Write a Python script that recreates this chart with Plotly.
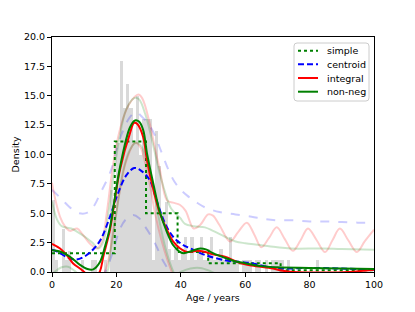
import plotly.graph_objects as go

# ---------------- data ----------------
hist_left = list(range(0, 100))
hist_height = [6.1, 1.0, 0, 3.7, 1.0, 1.8, 0, 0, 0, 1.0,
               0, 0, 1.0, 1.0, 0, 0, 1.0, 0, 7.0, 5.0,
               11.0, 18.0, 14.0, 16.0, 14.0, 11.0, 15.0, 10.0, 13.0, 13.0,
               13.0, 1.0, 12.0, 9.0, 5.0, 6.0, 2.0, 1.0, 2.0, 1.0,
               2.0, 3.0, 1.0, 3.0, 1.0, 2.0, 3.0, 1.0, 2.0, 3.0,
               1.0, 1.0, 2.0, 1.0, 1.0, 3.0, 1.0, 1.0, 0, 1.0,
               1.0, 1.0, 0, 1.0, 1.0, 0, 1.0, 0, 1.0, 1.0,
               1.0, 1.0, 0, 1.0, 0, 0, 0, 0, 0, 0,
               0, 0, 1.0, 0, 0, 0, 0, 0, 0, 0,
               0, 0, 0, 0, 0, 0, 0, 0, 0, 0]

simple_x = [0, 19.5, 29.2, 39, 48.5, 71, 100]
simple_y = [1.6, 11.1, 5.0, 1.7, 0.75, 0.15, 0.15]

centroid_x = [0, 2, 4, 7, 10, 12.7, 15, 18, 20.5, 23, 25.5, 27.3, 30.4, 32.6, 35,
              37.6, 40.7, 43, 47.5, 53.7, 58.4, 62, 66, 71.7, 80, 90, 100]
centroid_y = [1.9, 1.7, 1.35, 1.05, 1.3, 1.9, 2.7, 4.7, 6.7, 8.2, 8.85, 8.7, 7.8, 6.0, 4.2,
              3.0, 2.3, 2.0, 1.45, 1.0, 0.85, 0.75, 0.5, 0.3, 0.35, 0.3, 0.2]

integral_x = [0, 2.5, 5, 6.5, 10, 12.4, 14.8, 16, 18, 21.1, 24.2, 25.5, 26.5, 28.3, 29.5,
              31.4, 33.5, 35.7, 37.6, 39.8, 42, 45, 47, 50, 53.7, 58, 62, 68.6, 71.7,
              75, 85, 92, 100]
integral_y = [2.4, 2.0, 1.3, 0.75, 0, -0.9, 0, 1.4, 3.6, 8.7, 11.8, 12.7, 12.6, 11.5, 9.5,
              7.1, 5.0, 3.6, 2.6, 2.0, 1.7, 1.8, 1.75, 1.5, 1.3, 0.8, 0.55, 0.3, 0.1,
              0.0, -0.05, 0.0, 0.2]

nonneg_x = [0, 2.5, 5.6, 8.7, 11, 12.8, 14.9, 16.5, 18, 21.1, 24.2, 25.8, 27, 28.3, 29.5,
            31.4, 33.5, 35.7, 37.6, 39.8, 41, 43, 46, 48, 50, 53.7, 57, 60, 65, 70,
            80, 90, 100]
nonneg_y = [1.85, 1.75, 1.3, 0.6, 0.25, 0.22, 0.85, 2.2, 3.8, 8.9, 12.3, 12.9, 12.8, 12.1, 10.1,
            7.6, 5.1, 3.4, 2.3, 1.7, 1.6, 1.75, 2.0, 1.9, 1.6, 1.2, 0.9, 0.75, 0.5, 0.4,
            0.35, 0.3, 0.25]

cen_hi_x = [0, 3, 6, 8.5, 11, 13, 15, 17, 18.5, 20, 22, 24, 26, 28, 30, 32, 34, 36, 38,
            40, 42, 45, 47.5, 52, 57, 62, 66, 70, 75, 80, 85, 90, 95, 100]
cen_hi_y = [7.0, 6.2, 5.4, 5.0, 5.05, 5.6, 6.7, 7.8, 8.8, 10.4, 12.0, 13.1, 13.6, 13.2, 12.6,
            11.6, 10.2, 8.8, 7.7, 7.0, 6.5, 5.9, 5.5, 5.1, 4.9, 4.7, 4.5, 4.4, 4.4, 4.3,
            4.3, 4.25, 4.2, 4.2]
cen_lo_x = [15.5, 17, 19, 21, 23, 25.2, 27, 28.3, 30, 32.6, 34, 35.7, 37]
cen_lo_y = [-0.5, 0.3, 1.8, 3.6, 4.5, 4.85, 4.6, 4.1, 3.4, 2.1, 1.2, 0.4, -0.2]

int_hi_x = [0, 1, 2.5, 4, 5.6, 7.8, 9.5, 11.8, 14, 15.5, 17, 18.5, 20, 22, 24, 26.8, 28,
            30.4, 32, 33.5, 35.7, 37.6, 39.8, 41.5, 44, 46, 48.5, 50, 52, 55.3, 57.8,
            60.5, 62.8, 65, 67.4, 69.8, 72.3, 74.8, 77.2, 79.5, 82.2, 84.8, 87.1, 89.4,
            92, 94.7, 97.1, 100]
int_hi_y = [7.6, 6.2, 4.7, 3.9, 3.5, 3.7, 3.2, 2.4, 2.0, 2.6, 5.0, 8.2, 10.8, 13.0, 14.3,
            15.1, 14.8, 12.6, 10.5, 8.7, 6.1, 5.9, 5.7, 5.2, 3.7, 4.0, 4.9, 4.8, 4.0, 2.6,
            3.4, 4.2, 3.2, 2.1, 2.9, 3.8, 2.8, 1.8, 2.7, 3.7, 2.7, 1.7, 2.7, 3.7, 2.7, 1.7,
            2.6, 3.6]
int_lo_x = [16, 17.5, 19, 21, 23, 25.8, 27.5, 29, 30.5, 32, 34, 36, 37.5]
int_lo_y = [-0.3, 1.0, 3.5, 6.8, 9.4, 11.0, 10.6, 9.2, 7.3, 5.0, 2.7, 0.9, -0.2]

nn_hi_x = [0, 1.5, 3, 6, 8, 10.2, 12.5, 14.5, 16, 17.5, 19, 21, 23, 25.5, 27, 29, 31, 33,
           35, 37, 39.8, 41.3, 44, 47.5, 50, 53.7, 57, 60, 64.6, 70, 74, 84, 90, 100]
nn_hi_y = [6.0, 4.5, 3.9, 3.7, 3.4, 3.0, 2.5, 2.0, 2.6, 5.0, 8.0, 11.5, 13.8, 14.8, 14.7,
           13.4, 11.3, 8.9, 6.9, 5.4, 4.6, 4.1, 3.9, 3.8, 3.5, 3.0, 2.6, 2.45, 2.3, 2.1,
           2.0, 2.0, 1.95, 1.9]
nn_lo_x = [0, 1, 3, 5, 7, 8.5, 16.5, 18, 20, 22, 24, 26, 27.5, 29, 31, 33, 35, 37, 38.5,
           40, 43, 46, 49, 50.5]
nn_lo_y = [-0.2, 0.05, 0.4, 0.45, 0.1, -0.2, -0.3, 1.5, 5.0, 8.5, 10.3, 11.0, 10.8, 9.9,
           7.5, 4.8, 2.3, 0.5, -0.3, 0.0, 0.3, 0.35, 0.1, -0.1]

x_ticks = [0, 20, 40, 60, 80, 100]
y_ticks = [0, 2.5, 5, 7.5, 10, 12.5, 15, 17.5, 20]

legend_names = ["simple", "centroid", "integral", "non-neg"]

FONT = "DejaVu Sans"
FS = 9.5
GREEN = "#008000"
BLUE = "#0000ff"
RED = "#ff0000"

# plot area in pixels
W, H = 415, 312
L, R, T, B = 52, 41, 37, 40
PW, PH = W - L - R, H - T - B


def px_x(p):
    return (p - L) / PW


def px_y(p):
    return (H - B - p) / PH


fig = go.Figure()

fig.add_trace(go.Bar(x=[v + 0.5 for v in hist_left], y=hist_height, width=1.0,
                     marker=dict(color="rgba(128,128,128,0.3)", line=dict(width=0)),
                     showlegend=False, hoverinfo="skip"))

faint = [
    (cen_hi_x, cen_hi_y, "rgba(0,0,255,0.2)", "dash"),
    (cen_lo_x, cen_lo_y, "rgba(0,0,255,0.2)", "dash"),
    (int_hi_x, int_hi_y, "rgba(255,0,0,0.2)", "solid"),
    (int_lo_x, int_lo_y, "rgba(255,0,0,0.2)", "solid"),
    (nn_hi_x, nn_hi_y, "rgba(0,128,0,0.2)", "solid"),
    (nn_lo_x, nn_lo_y, "rgba(0,128,0,0.2)", "solid"),
]
for xs, ys, c, d in faint:
    fig.add_trace(go.Scatter(x=xs, y=ys, mode="lines", showlegend=False,
                             line=dict(color=c, width=2, dash=d, shape="spline"),
                             hoverinfo="skip"))

main_styles = [
    dict(color=GREEN, width=2, dash="dot"),
    dict(color=BLUE, width=2, dash="6px,3px"),
    dict(color=RED, width=2, dash="solid"),
    dict(color=GREEN, width=2, dash="solid"),
]

fig.add_trace(go.Scatter(x=simple_x, y=simple_y, mode="lines", name=legend_names[0],
                         showlegend=False, line=dict(**main_styles[0], shape="hv")))
fig.add_trace(go.Scatter(x=centroid_x, y=centroid_y, mode="lines", name=legend_names[1],
                         showlegend=False, line=dict(**main_styles[1], shape="spline")))
fig.add_trace(go.Scatter(x=integral_x, y=integral_y, mode="lines", name=legend_names[2],
                         showlegend=False, line=dict(**main_styles[2], shape="spline")))
fig.add_trace(go.Scatter(x=nonneg_x, y=nonneg_y, mode="lines", name=legend_names[3],
                         showlegend=False, line=dict(**main_styles[3], shape="spline")))

axis_common = dict(showline=True, linecolor="black", linewidth=1, mirror=True,
                   ticks="outside", ticklen=4, tickwidth=1, tickcolor="black",
                   showgrid=False, zeroline=False, automargin=False,
                   tickfont=dict(family=FONT, size=FS, color="black"))

fig.update_xaxes(range=[0, 100], tickvals=x_ticks, ticktext=[str(v) for v in x_ticks],
                 **axis_common)
fig.update_yaxes(range=[0, 20], tickvals=y_ticks, ticktext=[f"{v:.1f}" for v in y_ticks],
                 **axis_common)

# ---- legend box (matplotlib style) ----
lx0, lx1 = px_x(294), px_x(369)
ly0, ly1 = px_y(101), px_y(43)
rx, ry = 3 / PW, 3 / PH
path = (f"M{lx0 + rx},{ly0} L{lx1 - rx},{ly0} Q{lx1},{ly0} {lx1},{ly0 + ry} "
        f"L{lx1},{ly1 - ry} Q{lx1},{ly1} {lx1 - rx},{ly1} L{lx0 + rx},{ly1} "
        f"Q{lx0},{ly1} {lx0},{ly1 - ry} L{lx0},{ly0 + ry} Q{lx0},{ly0} {lx0 + rx},{ly0} Z")
shapes = [dict(type="path", xref="paper", yref="paper", path=path,
               fillcolor="rgba(255,255,255,0.8)", line=dict(color="#cccccc", width=1),
               layer="above")]
annotations = []
row_py = [50.7, 64.3, 78.0, 91.7]
for name, st, py in zip(legend_names, main_styles, row_py):
    shapes.append(dict(type="line", xref="paper", yref="paper",
                       x0=px_x(298), x1=px_x(318), y0=px_y(py), y1=px_y(py),
                       line=dict(color=st["color"], width=2, dash=st["dash"]),
                       layer="above"))
    annotations.append(dict(text=name, xref="paper", yref="paper", x=px_x(325), y=px_y(py),
                            xanchor="left", yanchor="middle", showarrow=False,
                            font=dict(family=FONT, size=FS, color="black")))

annotations.append(dict(text="Age / years", xref="paper", yref="paper", x=0.5, y=px_y(297),
                        xanchor="center", yanchor="middle", showarrow=False,
                        font=dict(family=FONT, size=FS, color="black")))
annotations.append(dict(text="Density", xref="paper", yref="paper", x=px_x(15), y=0.5,
                        xanchor="center", yanchor="middle", showarrow=False, textangle=-90,
                        font=dict(family=FONT, size=FS, color="black")))

fig.update_layout(
    width=W, height=H,
    margin=dict(l=L, r=R, t=T, b=B),
    paper_bgcolor="white", plot_bgcolor="white",
    bargap=0, showlegend=False,
    font=dict(family=FONT, size=FS, color="black"),
    shapes=shapes, annotations=annotations,
)

fig.write_html("out.html", config={"displayModeBar": False},
               post_script="document.body.style.margin='0';document.body.style.padding='0';")
